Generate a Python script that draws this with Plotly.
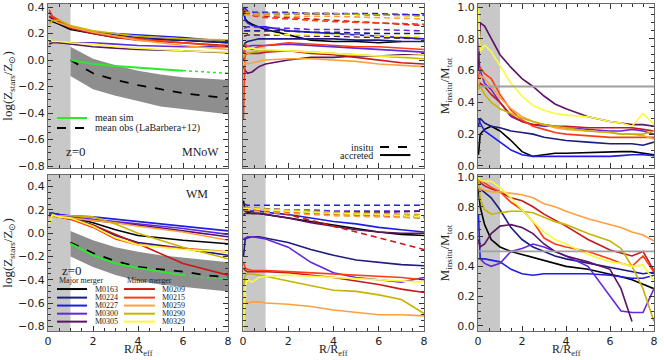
import plotly.graph_objects as go

# galaxies, colours in legend order
GALAXIES = ["M0163", "M0224", "M0227", "M0300", "M0305",
            "M0209", "M0215", "M0259", "M0290", "M0329"]
COLORS = {"M0163": "#000000", "M0224": "#1c1c82", "M0227": "#1e1ee8",
          "M0300": "#6428dc", "M0305": "#5a1464", "M0209": "#c81818",
          "M0215": "#ff3c14", "M0259": "#ffa040", "M0290": "#c8b400",
          "M0329": "#fafa3c"}

# radial grids (R/Reff)
R_Z = [0.05, 0.2, 0.5, 1, 2, 3, 4, 6, 8]
R_M = [0.02, 0.1, 0.2, 0.4, 0.7, 1, 2, 3, 4, 5, 6, 7, 8]
R_F = [0.02, 0.1, 0.3, 0.6, 1, 1.5, 2, 2.5, 3, 3.5, 4, 5, 6, 6.5, 7, 7.5, 8]
R_OBS = [1, 2, 3, 4, 5, 6, 7, 8]
R_SIM = [1, 2, 3, 4, 5, 6]
R_SIM_EXT = [6, 7, 8]
R_CORE = [0, 1]
HALF = 0.5

# total metallicity profiles, MNoW
z_mnow = {
    "M0163": [0.30, 0.29, 0.27, 0.23, 0.20, 0.17, 0.16, 0.15, 0.13],
    "M0224": [0.33, 0.31, 0.28, 0.24, 0.21, 0.19, 0.17, 0.15, 0.13],
    "M0227": [0.36, 0.33, 0.29, 0.24, 0.21, 0.20, 0.19, 0.17, 0.14],
    "M0300": [0.14, 0.14, 0.13, 0.13, 0.13, 0.12, 0.11, 0.10, 0.10],
    "M0305": [0.12, 0.13, 0.13, 0.12, 0.10, 0.09, 0.08, 0.07, 0.055],
    "M0209": [0.33, 0.32, 0.29, 0.24, 0.20, 0.17, 0.15, 0.13, 0.11],
    "M0215": [0.38, 0.33, 0.30, 0.25, 0.21, 0.18, 0.16, 0.13, 0.10],
    "M0259": [0.30, 0.30, 0.28, 0.25, 0.21, 0.18, 0.15, 0.11, 0.08],
    "M0290": [0.27, 0.30, 0.30, 0.26, 0.22, 0.20, 0.18, 0.16, 0.15],
    "M0329": [0.16, 0.14, 0.14, 0.13, 0.12, 0.10, 0.09, 0.07, 0.06],
}
# total metallicity profiles, WM
z_wm = {
    "M0163": [0.17, 0.17, 0.16, 0.14, 0.09, 0.03, -0.02, -0.06, -0.09],
    "M0224": [0.16, 0.16, 0.15, 0.13, 0.07, -0.02, -0.08, -0.13, -0.19],
    "M0227": [0.17, 0.17, 0.16, 0.15, 0.14, 0.12, 0.10, 0.06, 0.02],
    "M0300": [0.17, 0.16, 0.15, 0.14, 0.12, 0.10, 0.08, 0.04, -0.01],
    "M0305": [0.15, 0.15, 0.14, 0.13, 0.11, 0.09, 0.07, 0.02, -0.03],
    "M0209": [0.15, 0.15, 0.14, 0.12, 0.07, -0.01, -0.09, -0.26, -0.36],
    "M0215": [0.15, 0.15, 0.14, 0.12, 0.05, -0.05, -0.10, -0.13, -0.16],
    "M0259": [0.15, 0.15, 0.14, 0.13, 0.11, 0.09, 0.06, 0.01, -0.06],
    "M0290": [0.13, 0.14, 0.15, 0.15, 0.14, 0.08, 0.00, -0.12, -0.22],
    "M0329": [0.08, 0.16, 0.14, 0.13, 0.06, -0.04, -0.10, -0.14, -0.16],
}

# observed mean + scatter (LaBarbera+12) and simulated mean
obs_mnow = [0.0, -0.10, -0.15, -0.19, -0.22, -0.25, -0.27, -0.29]
obs_mnow_hi = [0.10, 0.01, -0.04, -0.08, -0.11, -0.13, -0.14, -0.15]
obs_mnow_lo = [-0.12, -0.22, -0.27, -0.31, -0.35, -0.37, -0.39, -0.41]
sim_mnow = [0.0, -0.03, -0.045, -0.06, -0.07, -0.08]
sim_mnow_ext = [-0.08, -0.09, -0.10]
obs_wm = [-0.08, -0.17, -0.24, -0.29, -0.31, -0.33, -0.36, -0.38]
obs_wm_hi = [0.02, -0.06, -0.12, -0.16, -0.19, -0.21, -0.23, -0.25]
obs_wm_lo = [-0.20, -0.29, -0.36, -0.41, -0.44, -0.46, -0.48, -0.50]
sim_wm = [-0.09, -0.19, -0.26, -0.30, -0.33, -0.36]
sim_wm_ext = [-0.36, -0.38, -0.39]

# in-situ (dashed) metallicity, on R_Z
insitu_mnow = {
    "M0163": [0.37, 0.36, 0.35, 0.35, 0.35, 0.35, 0.35, 0.34, 0.34],
    "M0224": [0.22, 0.22, 0.22, 0.22, 0.22, 0.21, 0.21, 0.20, 0.20],
    "M0227": [0.40, 0.37, 0.36, 0.36, 0.36, 0.35, 0.35, 0.35, 0.34],
    "M0300": [0.24, 0.25, 0.25, 0.24, 0.24, 0.23, 0.23, 0.23, 0.22],
    "M0305": [0.18, 0.19, 0.19, 0.19, 0.19, 0.18, 0.18, 0.17, 0.16],
    "M0209": [0.36, 0.35, 0.34, 0.33, 0.32, 0.31, 0.30, 0.28, 0.26],
    "M0215": [0.38, 0.36, 0.33, 0.32, 0.31, 0.30, 0.29, 0.28, 0.27],
    "M0259": [0.34, 0.34, 0.34, 0.34, 0.33, 0.33, 0.33, 0.32, 0.31],
    "M0290": [0.35, 0.36, 0.35, 0.35, 0.35, 0.35, 0.35, 0.34, 0.33],
    "M0329": [0.20, 0.20, 0.20, 0.20, 0.19, 0.19, 0.19, 0.18, 0.18],
}
insitu_wm = {
    "M0163": [0.22, 0.21, 0.21, 0.21, 0.20, 0.19, 0.18, 0.16, 0.14],
    "M0224": [0.21, 0.20, 0.20, 0.20, 0.19, 0.18, 0.17, 0.15, 0.13],
    "M0227": [0.25, 0.24, 0.24, 0.24, 0.24, 0.24, 0.24, 0.24, 0.24],
    "M0300": [0.22, 0.22, 0.21, 0.21, 0.20, 0.20, 0.19, 0.19, 0.19],
    "M0305": [0.20, 0.20, 0.20, 0.20, 0.19, 0.19, 0.18, 0.18, 0.19],
    "M0209": [0.22, 0.22, 0.21, 0.20, 0.16, 0.11, 0.06, -0.04, -0.14],
    "M0215": [0.22, 0.21, 0.20, 0.19, 0.18, 0.17, 0.16, 0.15, 0.14],
    "M0259": [0.20, 0.20, 0.19, 0.18, 0.17, 0.16, 0.15, 0.14, 0.13],
    "M0290": [0.22, 0.22, 0.22, 0.21, 0.20, 0.19, 0.18, 0.17, 0.16],
    "M0329": [0.21, 0.21, 0.21, 0.20, 0.19, 0.18, 0.17, 0.16, 0.14],
}

# accreted (solid) metallicity, on R_M
accreted_mnow = {
    "M0163": [0.36, 0.31, 0.29, 0.27, 0.25, 0.23, 0.19, 0.15, 0.14, 0.14, 0.13, 0.14, None],
    "M0224": [0.10, 0.13, 0.14, 0.15, 0.16, 0.16, 0.16, 0.16, 0.16, 0.15, 0.15, 0.14, 0.14],
    "M0227": [0.40, 0.30, 0.28, 0.26, 0.25, 0.25, 0.22, 0.21, 0.20, 0.19, 0.18, 0.17, 0.16],
    "M0300": [0.05, 0.09, 0.10, 0.11, 0.11, 0.11, 0.12, 0.11, 0.10, 0.09, 0.08, 0.07, 0.06],
    "M0305": [-0.05, -0.08, -0.10, -0.09, -0.05, -0.03, 0.00, 0.02, 0.02, 0.03, 0.03, 0.04, 0.04],
    "M0209": [0.00, 0.04, 0.05, 0.05, 0.05, 0.06, 0.07, 0.05, 0.04, 0.02, 0.00, -0.02, -0.03],
    "M0215": [-0.45, 0.12, 0.10, 0.08, 0.10, 0.11, 0.13, 0.12, 0.11, 0.10, 0.10, 0.09, 0.08],
    "M0259": [-0.05, -0.02, -0.03, -0.02, -0.01, 0.00, 0.01, 0.01, 0.00, -0.01, -0.03, -0.04, -0.05],
    "M0290": [0.02, 0.05, 0.05, 0.06, 0.07, 0.07, 0.07, 0.06, 0.05, 0.04, 0.03, 0.02, 0.01],
    "M0329": [0.10, 0.08, 0.09, 0.09, 0.08, 0.08, 0.07, 0.06, 0.05, 0.04, 0.03, 0.03, 0.04],
}
accreted_wm = {
    "M0163": [0.28, 0.19, 0.18, 0.17, 0.17, 0.16, 0.13, 0.10, 0.07, 0.04, 0.01, -0.01, -0.02],
    "M0224": [-0.20, -0.05, -0.04, -0.03, -0.03, -0.04, -0.08, -0.14, -0.19, -0.23, -0.25, -0.27, -0.28],
    "M0227": [0.20, 0.19, 0.19, 0.19, 0.19, 0.18, 0.16, 0.13, 0.10, 0.08, 0.05, 0.03, 0.01],
    "M0300": [-0.05, -0.04, -0.03, -0.03, -0.04, -0.05, -0.12, -0.25, -0.34, -0.38, -0.40, -0.42, -0.38],
    "M0305": [0.16, 0.17, 0.17, 0.17, 0.17, 0.16, 0.13, 0.09, 0.06, 0.03, 0.01, 0.00, 0.00],
    "M0209": [-0.30, -0.32, -0.33, -0.33, -0.33, -0.33, -0.34, -0.36, -0.38, -0.41, -0.44, -0.48, -0.51],
    "M0215": [-0.25, -0.30, -0.31, -0.32, -0.32, -0.32, -0.33, -0.34, -0.35, -0.36, -0.37, -0.38, -0.40],
    "M0259": [-0.65, -0.58, -0.60, -0.59, -0.59, -0.60, -0.61, -0.63, -0.66, -0.68, -0.70, -0.70, -0.71],
    "M0290": [-0.45, -0.36, -0.35, -0.35, -0.36, -0.37, -0.41, -0.45, -0.49, -0.50, -0.53, -0.57, -0.69],
    "M0329": [-0.84, -0.45, -0.40, -0.42, -0.38, -0.37, -0.36, -0.37, -0.38, -0.39, -0.40, -0.41, -0.42],
}

# in-situ mass fraction, on R_F
frac_mnow = {
    "M0163": [0.07, 0.20, 0.23, 0.25, 0.22, 0.16, 0.09, 0.06, 0.07, 0.08, 0.08, 0.085, 0.09, 0.09, 0.09, 0.08, 0.07],
    "M0224": [0.25, 0.30, 0.27, 0.25, 0.24, 0.22, 0.21, 0.20, 0.18, 0.17, 0.16, 0.15, 0.14, 0.14, 0.14, 0.13, 0.15],
    "M0227": [0.30, 0.27, 0.22, 0.19, 0.15, 0.10, 0.07, 0.06, 0.06, 0.06, 0.06, 0.06, 0.06, 0.065, 0.07, 0.07, 0.065],
    "M0300": [0.68, 0.60, 0.52, 0.48, 0.40, 0.31, 0.28, 0.26, 0.25, 0.25, 0.24, 0.23, 0.22, 0.22, 0.23, 0.22, 0.20],
    "M0305": [0.60, 0.90, 0.88, 0.80, 0.70, 0.62, 0.55, 0.50, 0.44, 0.39, 0.36, 0.31, 0.28, 0.27, 0.26, 0.26, 0.25],
    "M0209": [0.50, 0.52, 0.50, 0.45, 0.40, 0.32, 0.28, 0.26, 0.26, 0.25, 0.25, 0.24, 0.24, 0.24, 0.24, 0.23, 0.22],
    "M0215": [0.55, 0.62, 0.58, 0.55, 0.45, 0.35, 0.29, 0.25, 0.23, 0.21, 0.20, 0.19, 0.18, 0.18, 0.18, 0.18, 0.18],
    "M0259": [0.50, 0.57, 0.55, 0.50, 0.43, 0.36, 0.31, 0.28, 0.26, 0.24, 0.23, 0.22, 0.21, 0.20, 0.20, 0.19, 0.17],
    "M0290": [0.48, 0.50, 0.45, 0.40, 0.36, 0.33, 0.30, 0.28, 0.26, 0.25, 0.24, 0.22, 0.21, 0.20, 0.20, 0.20, 0.22],
    "M0329": [1.00, 0.72, 0.76, 0.72, 0.63, 0.52, 0.44, 0.38, 0.35, 0.33, 0.32, 0.31, 0.28, 0.27, 0.25, 0.33, 0.26],
}
frac_wm = {
    "M0163": [0.92, 0.80, 0.68, 0.58, 0.53, 0.50, 0.48, 0.46, 0.44, 0.42, 0.40, 0.38, 0.35, 0.33, 0.31, 0.28, 0.25],
    "M0224": [0.93, 0.92, 0.90, 0.86, 0.78, 0.66, 0.58, 0.53, 0.50, 0.47, 0.45, 0.42, 0.39, 0.38, 0.36, 0.35, 0.36],
    "M0227": [0.75, 0.45, 0.45, 0.44, 0.43, 0.38, 0.35, 0.34, 0.35, 0.35, 0.35, 0.35, 0.34, 0.33, 0.32, 0.32, 0.34],
    "M0300": [0.45, 0.45, 0.42, 0.40, 0.42, 0.50, 0.52, 0.55, 0.53, 0.50, 0.47, 0.40, 0.20, 0.10, 0.09, 0.09, 0.25],
    "M0305": [0.58, 0.53, 0.55, 0.62, 0.67, 0.68, 0.66, 0.62, 0.55, 0.50, 0.47, 0.43, 0.38, 0.25, 0.03, None, None],
    "M0209": [0.97, 0.96, 0.94, 0.92, 0.90, 0.86, 0.84, 0.80, 0.75, 0.71, 0.67, 0.58, 0.51, 0.49, 0.47, 0.50, 0.37],
    "M0215": [0.95, 0.98, 0.96, 0.93, 0.90, 0.83, 0.78, 0.70, 0.59, 0.55, 0.53, 0.50, 0.45, 0.42, 0.40, 0.47, 0.36],
    "M0259": [0.93, 0.92, 0.91, 0.90, 0.90, 0.89, 0.88, 0.86, 0.82, 0.80, 0.77, 0.72, 0.68, 0.66, 0.63, 0.61, 0.57],
    "M0290": [1.00, 0.85, 0.78, 0.75, 0.76, 0.77, 0.77, 0.76, 0.73, 0.70, 0.68, 0.62, 0.57, 0.52, 0.40, 0.25, 0.03],
    "M0329": [1.00, 0.98, 0.97, 0.97, 0.93, 0.86, 0.78, 0.70, 0.63, 0.58, 0.55, 0.48, 0.43, 0.42, 0.40, 0.41, 0.30],
}

W, H = 664, 360
SERIF = "Liberation Serif"
SANS = "DejaVu Sans"

fig = go.Figure()


def sfx(ax):
    # plotly names the first axis "x"/"y", not "x1"/"y1"
    return "" if ax == "1" else ax


def line(x, y, color, ax, dash="solid", width=1.6):
    fig.add_trace(go.Scatter(x=x, y=y, mode="lines", xaxis="x" + sfx(ax), yaxis="y" + sfx(ax),
                             line=dict(color=color, width=width, dash=dash),
                             showlegend=False, hoverinfo="skip", connectgaps=False))


def band(x, lo, hi, ax):
    fig.add_trace(go.Scatter(x=x + x[::-1], y=hi + lo[::-1], mode="lines", fill="toself",
                             fillcolor="#8e8e8e", line=dict(width=0), xaxis="x" + sfx(ax),
                             yaxis="y" + sfx(ax), showlegend=False, hoverinfo="skip"))


# left column: total Z
for ax, obs, lo, hi, sim, ext, prof in [("1", obs_mnow, obs_mnow_lo, obs_mnow_hi, sim_mnow, sim_mnow_ext, z_mnow),
                                         ("4", obs_wm, obs_wm_lo, obs_wm_hi, sim_wm, sim_wm_ext, z_wm)]:
    band(R_OBS, lo, hi, ax)
    for g in GALAXIES:
        line(R_Z, prof[g], COLORS[g], ax)
    line(R_OBS, obs, "#000000", ax, dash="dash", width=1.8)
    line(R_SIM, sim, "#2ee82e", ax, width=2)
    line(R_SIM_EXT, ext, "#2ee82e", ax, dash="dot", width=1.5)

# middle column: in-situ vs accreted
for ax, ins, acc in [("2", insitu_mnow, accreted_mnow), ("5", insitu_wm, accreted_wm)]:
    for g in GALAXIES:
        line(R_M, acc[g], COLORS[g], ax)
    for g in GALAXIES:
        line(R_Z, ins[g], COLORS[g], ax, dash="6px,4px")

# right column: in-situ mass fraction
for ax, frac in [("3", frac_mnow), ("6", frac_wm)]:
    for g in GALAXIES:
        line(R_F, frac[g], COLORS[g], ax)


cols = [(48, 228), (243, 424), (478, 654)]
rows = [(4, 168), (175, 331)]
yranges = {"1": [-0.815, 0.423], "2": [-0.815, 0.423], "3": [-0.013, 1.019],
           "4": [-0.84, 0.50], "5": [-0.84, 0.50], "6": [-0.034, 1.013]}

layout_axes = {}
shapes = []
annotations = []
for r, (ytop, ybot) in enumerate(rows):
    for c, (xl, xr) in enumerate(cols):
        n = str(r * 3 + c + 1)
        s = sfx(n)
        layout_axes["xaxis" + s] = dict(
            domain=[xl / W, xr / W], range=[0, 8], anchor="y" + s, automargin=False,
            showgrid=False, zeroline=False, showline=True, mirror="allticks",
            linecolor="#6a6a6a", linewidth=1.2, ticks="inside", ticklen=5,
            tickcolor="#333", dtick=2, tick0=0, showticklabels=(r == 1),
            tickfont=dict(family=SANS, size=11, color="#222"),
            minor=dict(ticks="inside", ticklen=3, dtick=0.5, tickcolor="#333"))
        if r == 1:
            # x title as a note under the panel, so it sits below the tick labels
            annotations.append(dict(xref="x" + s + " domain", yref="paper", x=0.5, y=0,
                                    text="R/R<sub>eff</sub>", showarrow=False,
                                    xanchor="center", yanchor="bottom",
                                    font=dict(family=SERIF, size=12, color="#222")))
        yax = dict(
            domain=[1 - ybot / H, 1 - ytop / H], range=yranges[n], anchor="x" + s,
            automargin=False,
            showgrid=False, zeroline=False, showline=True, mirror="allticks",
            linecolor="#6a6a6a", linewidth=1.2, ticks="inside", ticklen=5,
            tickcolor="#333", dtick=0.2, tick0=0, tickformat=".1f",
            showticklabels=(c != 1),
            tickfont=dict(family=SANS, size=11, color="#222"),
            minor=dict(ticks="inside", ticklen=3, dtick=0.05, tickcolor="#333"))
        if c == 0:
            yax["title"] = dict(text="log(Z<sub>stars</sub>/Z<sub>⊙</sub>)",
                                font=dict(family=SERIF, size=13, color="#222"), standoff=4)
        if c == 2:
            yax["title"] = dict(text="M<sub>insitu</sub>/M<sub>tot</sub>",
                                font=dict(family=SERIF, size=13, color="#222"), standoff=4)
        layout_axes["yaxis" + s] = yax
        # effective-radius shading
        shapes.append(dict(type="rect", xref="x" + s, yref="y" + s + " domain",
                           x0=R_CORE[0], x1=R_CORE[1], y0=0, y1=1,
                           fillcolor="#c8c8c8", line=dict(width=0), layer="below"))
        if c == 2:
            shapes.append(dict(type="line", xref="x" + s + " domain", yref="y" + s,
                               x0=0, x1=1, y0=HALF, y1=HALF,
                               line=dict(color="#a0a0a0", width=1.8)))


def text(ax, x, y, t, size=10, xanchor="left", family=SERIF):
    annotations.append(dict(xref="x" + sfx(ax) + " domain", yref="y" + sfx(ax) + " domain",
                            x=x, y=y, text=t, showarrow=False, xanchor=xanchor,
                            yanchor="middle", font=dict(family=family, size=size, color="#222")))


def sample(ax, x0, x1, y, color, dash="solid", width=2):
    shapes.append(dict(type="line", xref="x" + sfx(ax) + " domain", yref="y" + sfx(ax) + " domain",
                       x0=x0, x1=x1, y0=y, y1=y, line=dict(color=color, width=width, dash=dash)))


# top-left legend
sample("1", 0.05, 0.217, 0.305, "#2ee82e")
text("1", 0.25, 0.305, "mean sim")
sample("1", 0.05, 0.217, 0.244, "#000000", dash="dash")
text("1", 0.25, 0.244, "mean obs (LaBarbera+12)")
text("1", 0.09, 0.1, "z=0", size=13)
text("1", 0.96, 0.1, "MNoW", size=12, xanchor="right")

# top-middle legend
text("2", 0.73, 0.128, "insitu", xanchor="right")
sample("2", 0.757, 0.906, 0.128, "#000000", dash="dash")
text("2", 0.73, 0.079, "accreted", xanchor="right")
sample("2", 0.757, 0.925, 0.079, "#000000")

# bottom-left legend
text("4", 0.9, 0.878, "WM", size=12, xanchor="right")
text("4", 0.067, 0.39, "z=0", size=13)
text("4", 0.05, 0.322, "Major merger", size=8)
text("4", 0.43, 0.322, "Minor merger", size=8)
leg_y = [0.269, 0.214, 0.163, 0.111, 0.06]
for i, g in enumerate(GALAXIES[:5]):
    sample("4", 0.05, 0.217, leg_y[i], COLORS[g])
    text("4", 0.25, leg_y[i], g, size=8)
for i, g in enumerate(GALAXIES[5:]):
    sample("4", 0.422, 0.594, leg_y[i], COLORS[g])
    text("4", 0.622, leg_y[i], g, size=8)

fig.update_layout(width=W, height=H, margin=dict(l=0, r=0, t=0, b=0),
                  paper_bgcolor="white", plot_bgcolor="white",
                  shapes=shapes, annotations=annotations, **layout_axes)

# the page body has a default 8px margin; remove it so the figure sits at the corner
fig.write_html("out.html", config={"displayModeBar": False},
               post_script="document.body.style.margin='0px';")
